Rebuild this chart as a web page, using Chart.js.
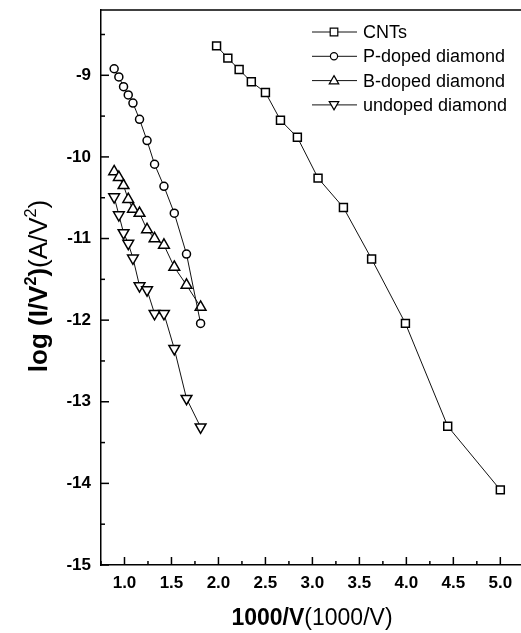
<!DOCTYPE html>
<html>
<head>
<meta charset="utf-8">
<script src="https://cdn.jsdelivr.net/npm/chart.js@4.4.1/dist/chart.umd.min.js"></script>
<style>
body { margin: 0; background: #fff; }
#wrap { width: 521px; height: 633px; position: relative; }
</style>
</head>
<body>
<div id="wrap"><canvas id="c"></canvas></div>
<script>
// series names (legend order)
var seriesNames = ['CNTs', 'P-doped diamond', 'B-doped diamond', 'undoped diamond'];

// CNTs
var cntX = [1.98, 2.10, 2.22, 2.35, 2.50, 2.66, 2.84, 3.06, 3.33, 3.63, 3.99, 4.44, 5.00];
var cntY = [-8.64, -8.79, -8.93, -9.08, -9.21, -9.55, -9.76, -10.26, -10.62, -11.25, -12.04, -13.30, -14.08];

// diamond films share the same 1000/V points
var diamondX = [0.89, 0.94, 0.99, 1.04, 1.09, 1.16, 1.24, 1.32, 1.42, 1.53, 1.66, 1.81];
var pDopedY  = [-8.92, -9.02, -9.14, -9.24, -9.34, -9.54, -9.80, -10.09, -10.36, -10.69, -11.19, -12.04];
var bDopedY  = [-10.18, -10.25, -10.35, -10.52, -10.64, -10.69, -10.89, -11.00, -11.08, -11.35, -11.57, -11.84];
var undopedY = [-10.49, -10.71, -10.93, -11.06, -11.24, -11.58, -11.63, -11.92, -11.92, -12.35, -12.96, -13.31];

// tick labels
var xTicks = [1.0, 1.5, 2.0, 2.5, 3.0, 3.5, 4.0, 4.5, 5.0];
var yTicks = [-15, -14, -13, -12, -11, -10, -9];

var FONT = '"Liberation Sans", Arial, Helvetica, sans-serif';

function toPoints(xs, ys) {
	var pts = [];
	for (var i = 0; i < ys.length; i++) pts.push({x: xs[i], y: ys[i]});
	return pts;
}

function makeSet(label, pts, style, radius, rot) {
	return {
		label: label,
		data: pts,
		showLine: true,
		borderColor: '#111',
		borderWidth: 1,
		pointStyle: style,
		rotation: rot || 0,
		pointRadius: radius,
		pointBorderWidth: 1.5,
		pointBorderColor: '#000',
		pointBackgroundColor: '#fff',
		tension: 0
	};
}

// draw an open marker by hand (legend)
function marker(ctx, style, rot, x, y, r) {
	ctx.beginPath();
	if (style == 'rect') {
		ctx.rect(x - r, y - r, 2 * r, 2 * r);
	} else if (style == 'circle') {
		ctx.arc(x, y, r, 0, Math.PI * 2);
	} else {
		var s = rot ? -1 : 1;
		ctx.moveTo(x, y - s * r);
		ctx.lineTo(x + r * 0.95, y + s * r * 0.65);
		ctx.lineTo(x - r * 0.95, y + s * r * 0.65);
		ctx.closePath();
	}
	ctx.fill();
	ctx.stroke();
}

// text with bold/regular runs and superscripts
function runsWidth(ctx, runs, size) {
	var w = 0;
	runs.forEach(function(r) {
		var fs = r.sup ? size * 0.62 : size;
		ctx.font = (r.bold ? 'bold ' : '') + fs + 'px ' + FONT;
		w += ctx.measureText(r.text).width;
	});
	return w;
}
function drawRuns(ctx, runs, cx, cy, size) {
	var x = cx - runsWidth(ctx, runs, size) / 2;
	ctx.textBaseline = 'alphabetic';
	ctx.textAlign = 'left';
	runs.forEach(function(r) {
		var fs = r.sup ? size * 0.62 : size;
		ctx.font = (r.bold ? 'bold ' : '') + fs + 'px ' + FONT;
		ctx.fillText(r.text, x, r.sup ? cy - size * 0.42 : cy);
		x += ctx.measureText(r.text).width;
	});
}

var framePlugin = {
	id: 'frame',
	afterDraw: function(chart) {
		var ctx = chart.ctx;
		var a = chart.chartArea;
		var xs = chart.scales.x, ys = chart.scales.y;
		ctx.save();
		ctx.strokeStyle = '#000';
		ctx.lineWidth = 1.5;

		// top frame line
		ctx.beginPath();
		ctx.moveTo(a.left, a.top);
		ctx.lineTo(a.right, a.top);
		ctx.stroke();

		// inward ticks
		var v, p, len;
		for (v = 0.75; v <= 5.2; v += 0.25) {
			p = xs.getPixelForValue(v);
			len = (Math.abs(v * 2 - Math.round(v * 2)) < 0.01) ? 8 : 4;
			ctx.beginPath();
			ctx.moveTo(p, a.bottom);
			ctx.lineTo(p, a.bottom - len);
			ctx.stroke();
		}
		for (v = -15; v <= -8.4; v += 0.5) {
			p = ys.getPixelForValue(v);
			len = (v == Math.round(v)) ? 8 : 4;
			ctx.beginPath();
			ctx.moveTo(a.left, p);
			ctx.lineTo(a.left + len, p);
			ctx.stroke();
		}

		// legend
		chart.data.datasets.forEach(function(ds, i) {
			var ly = 32 + i * 24.3;
			ctx.strokeStyle = '#111';
			ctx.lineWidth = 1;
			ctx.beginPath();
			ctx.moveTo(312, ly);
			ctx.lineTo(357, ly);
			ctx.stroke();
			ctx.fillStyle = '#fff';
			ctx.strokeStyle = '#000';
			ctx.lineWidth = 1.2;
			var r = ds.pointStyle == 'triangle' ? 5 : (ds.pointStyle == 'rect' ? 3.8 : 3.6);
			marker(ctx, ds.pointStyle, ds.rotation, 334, ly, r);
			ctx.fillStyle = '#000';
			ctx.font = '18px ' + FONT;
			ctx.textBaseline = 'middle';
			ctx.textAlign = 'left';
			ctx.fillText(ds.label, 363, ly + 1);
		});

		// axis titles
		ctx.fillStyle = '#000';
		drawRuns(ctx, [
			{text: '1000/V', bold: true},
			{text: '(1000/V)'}
		], 312, 625, 23);

		ctx.translate(47, 286);
		ctx.rotate(-Math.PI / 2);
		drawRuns(ctx, [
			{text: 'log (I/V', bold: true},
			{text: '2', bold: true, sup: true},
			{text: ')', bold: true},
			{text: '(A/V'},
			{text: '2', sup: true},
			{text: ')'}
		], 0, 0, 26);
		ctx.restore();
	}
};

var ctx = document.getElementById('c').getContext('2d');
var chart = new Chart(ctx, {
	type: 'scatter',
	data: {
		datasets: [
			makeSet(seriesNames[0], toPoints(cntX, cntY), 'rect', 5.6),
			makeSet(seriesNames[1], toPoints(diamondX, pDopedY), 'circle', 4),
			makeSet(seriesNames[2], toPoints(diamondX, bDopedY), 'triangle', 6.2),
			makeSet(seriesNames[3], toPoints(diamondX, undopedY), 'triangle', 6.2, 180)
		]
	},
	options: {
		responsive: true,
		maintainAspectRatio: false,
		animation: false,
		layout: { autoPadding: false, padding: { top: 10, right: 0, left: 0, bottom: 0 } },
		plugins: {
			legend: { display: false },
			tooltip: { enabled: false }
		},
		scales: {
			x: {
				type: 'linear',
				min: 0.75,
				max: 5.22,
				afterBuildTicks: function(s) { s.ticks = xTicks.map(function(v) { return {value: v}; }); },
				afterFit: function(s) { s.height = 68; s.paddingLeft = 0; s.paddingRight = 0; },
				grid: { display: false, drawTicks: false },
				border: { display: true, color: '#000', width: 1.5 },
				ticks: {
					padding: 8,
					color: '#000',
					font: { family: FONT, size: 17, weight: 'bold' },
					callback: function(v) { return Number(v).toFixed(1); }
				}
			},
			y: {
				type: 'linear',
				min: -15,
				max: -8.2,
				afterBuildTicks: function(s) { s.ticks = yTicks.map(function(v) { return {value: v}; }); },
				afterFit: function(s) { s.width = 101; s.paddingTop = 0; s.paddingBottom = 0; },
				grid: { display: false, drawTicks: false },
				border: { display: true, color: '#000', width: 1.5 },
				ticks: {
					padding: 10,
					color: '#000',
					font: { family: FONT, size: 17, weight: 'bold' },
					callback: function(v) { return String(v); }
				}
			}
		}
	},
	plugins: [framePlugin]
});
</script>
</body>
</html>
